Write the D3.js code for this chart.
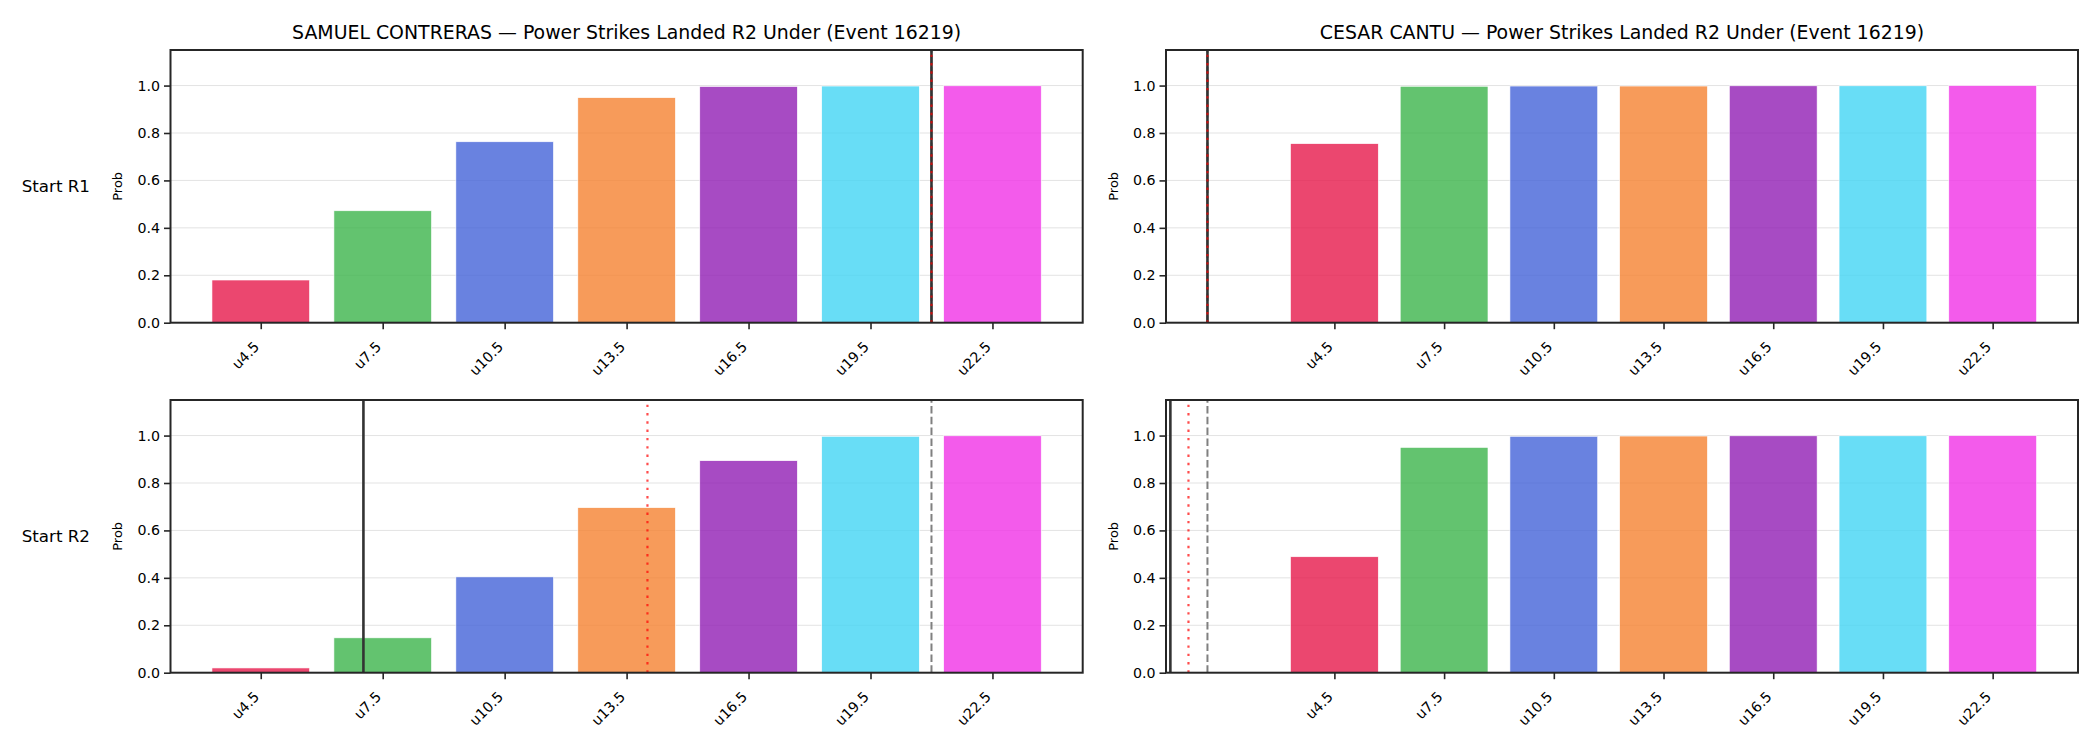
<!DOCTYPE html>
<html>
<head>
<meta charset="utf-8">
<script src="https://cdn.jsdelivr.net/npm/d3@7"></script>
<style>
  body { margin: 0; background: #fff; }
  svg text { font-family: "DejaVu Sans", sans-serif; fill: #000; }
</style>
</head>
<body>
<svg id="chart"></svg>
<script>
// thresholds on the x axis
var thresholds = ["u4.5", "u7.5", "u10.5", "u13.5", "u16.5", "u19.5", "u22.5"];

// probability of landing under each threshold
var samuelR1 = [0.180, 0.472, 0.763, 0.949, 0.996, 0.998, 0.999];
var cesarR1 = [0.755, 0.997, 0.998, 0.998, 0.999, 0.999, 1.000];
var samuelR2 = [0.020, 0.147, 0.404, 0.696, 0.894, 0.997, 0.999];
var cesarR2 = [0.489, 0.950, 0.997, 0.998, 0.999, 0.999, 1.000];

// vertical markers, in category units (top-left, top-right, bottom-left, bottom-right)
var solidPos = [5.5, -1.157, 0.842, -1.495];
var dottedPos = [5.5, -1.157, 3.171, -1.33];
var dashedPos = [5.5, -1.157, 5.5, -1.157];

var fighters = ["SAMUEL CONTRERAS", "CESAR CANTU"];
var rowLabels = ["Start R1", "Start R2"];
var titleText = " \u2014 Power Strikes Landed R2 Under (Event 16219)";
var yTicks = [0, 0.2, 0.4, 0.6, 0.8, 1.0];

var colors = ["#e6194b", "#3cb44b", "#4363d8", "#f58231", "#911eb4", "#42d4f4", "#f032e6"];

var panels = [
  { row: 0, col: 0, values: samuelR1, solid: solidPos[0], dotted: dottedPos[0], dashed: dashedPos[0] },
  { row: 0, col: 1, values: cesarR1, solid: solidPos[1], dotted: dottedPos[1], dashed: dashedPos[1] },
  { row: 1, col: 0, values: samuelR2, solid: solidPos[2], dotted: dottedPos[2], dashed: dashedPos[2] },
  { row: 1, col: 1, values: cesarR2, solid: solidPos[3], dotted: dottedPos[3], dashed: dashedPos[3] }
];

var width = 2100, height = 750;
var colLeft = [170.5, 1166], colRight = [1082.7, 2078];
var rowTop = [50, 400], rowBottom = [322.7, 672.7];

var svg = d3.select("#chart")
  .attr("width", width)
  .attr("height", height);

svg.append("rect").attr("width", width).attr("height", height).attr("fill", "#fff");

// x domain per column: bar extent plus the market line, 5% padding (like matplotlib autoscale)
function colDomain(col) {
  var lo = -0.4, hi = thresholds.length - 1 + 0.4;
  panels.forEach(function (p) {
    if (p.col === col && p.row === 0) {
      lo = Math.min(lo, p.dashed);
      hi = Math.max(hi, p.dashed);
    }
  });
  var pad = (hi - lo) * 0.05;
  return [lo - pad, hi + pad];
}

panels.forEach(function (p) {
  var x0 = colLeft[p.col], x1 = colRight[p.col];
  var y0 = rowTop[p.row], y1 = rowBottom[p.row];

  var x = d3.scaleLinear().domain(colDomain(p.col)).range([x0, x1]);
  var y = d3.scaleLinear().domain([0, 1.15]).range([y1, y0]);

  var g = svg.append("g");

  // grid
  g.selectAll(".grid")
    .data(yTicks)
    .enter().append("line")
    .attr("x1", x0).attr("x2", x1)
    .attr("y1", function (d) { return y(d); })
    .attr("y2", function (d) { return y(d); })
    .attr("stroke", "#e3e3e3")
    .attr("stroke-width", 1);

  // bars
  g.selectAll(".bar")
    .data(p.values)
    .enter().append("rect")
    .attr("x", function (d, i) { return x(i - 0.4); })
    .attr("width", function (d, i) { return x(i + 0.4) - x(i - 0.4); })
    .attr("y", function (d) { return y(d); })
    .attr("height", function (d) { return y(0) - y(d); })
    .attr("fill", function (d, i) { return colors[i]; })
    .attr("fill-opacity", 0.8)
    .attr("stroke", "#fff")
    .attr("stroke-width", 0.6);

  // markers
  g.append("line")
    .attr("x1", x(p.dashed)).attr("x2", x(p.dashed))
    .attr("y1", y1).attr("y2", y0)
    .attr("stroke", "#808080")
    .attr("stroke-width", 2)
    .attr("stroke-dasharray", "7.5,3.3");

  g.append("line")
    .attr("x1", x(p.solid)).attr("x2", x(p.solid))
    .attr("y1", y1).attr("y2", y0)
    .attr("stroke", "#333")
    .attr("stroke-width", 2.6);

  g.append("line")
    .attr("x1", x(p.dotted)).attr("x2", x(p.dotted))
    .attr("y1", y1).attr("y2", y0)
    .attr("stroke", "red")
    .attr("stroke-opacity", 0.7)
    .attr("stroke-width", 2.2)
    .attr("stroke-dasharray", "2.4,5.9");

  // axes
  var yAxis = g.append("g")
    .attr("transform", "translate(" + x0 + ",0)")
    .call(d3.axisLeft(y).tickValues(yTicks).tickFormat(d3.format(".1f"))
      .tickSize(6.5).tickPadding(4));
  yAxis.select(".domain").remove();
  yAxis.selectAll("line").attr("stroke", "#262626").attr("stroke-width", 1.6);
  yAxis.selectAll("text").style("font-size", "14.2px").attr("fill", "#000");

  var xAxis = g.append("g")
    .attr("transform", "translate(0," + y1 + ")")
    .call(d3.axisBottom(x).tickValues(d3.range(thresholds.length))
      .tickFormat(function (i) { return thresholds[i]; })
      .tickSize(6.5));
  xAxis.select(".domain").remove();
  xAxis.selectAll("line").attr("stroke", "#262626").attr("stroke-width", 1.6);
  xAxis.selectAll("text")
    .style("font-size", "14.2px")
    .attr("fill", "#000")
    .attr("x", 0).attr("y", 0).attr("dy", 0)
    .style("text-anchor", "end")
    .attr("transform", "translate(-1,25) rotate(-45)");

  // spines
  g.append("rect")
    .attr("x", x0).attr("y", y0)
    .attr("width", x1 - x0).attr("height", y1 - y0)
    .attr("fill", "none")
    .attr("stroke", "#262626")
    .attr("stroke-width", 2);

  // y label
  g.append("text")
    .attr("transform", "translate(" + (x0 - 48.5) + "," + ((y0 + y1) / 2) + ") rotate(-90)")
    .style("text-anchor", "middle")
    .style("font-size", "13px")
    .text("Prob");

  if (p.row === 0) {
    g.append("text")
      .attr("x", (x0 + x1) / 2)
      .attr("y", 38.5)
      .style("text-anchor", "middle")
      .style("font-size", "18.9px")
      .text(fighters[p.col] + titleText);
  }

  if (p.col === 0) {
    g.append("text")
      .attr("x", 90)
      .attr("y", (y0 + y1) / 2)
      .attr("dy", "0.35em")
      .style("text-anchor", "end")
      .style("font-size", "16.7px")
      .text(rowLabels[p.row]);
  }
});
</script>
</body>
</html>
